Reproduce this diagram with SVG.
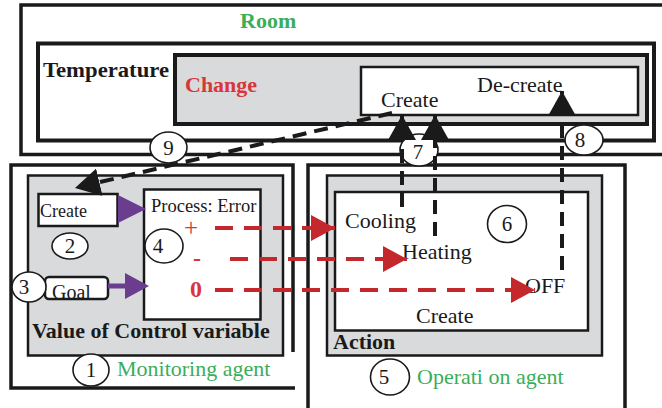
<svg xmlns="http://www.w3.org/2000/svg" width="662" height="408" viewBox="0 0 662 408">
  <style>
    text { font-family: "Liberation Serif", "Times New Roman", serif; font-size: 22px; fill: #1a1a1a; }
    .b { font-weight: bold; }
    .green { fill: #3aae58; }
    .red { fill: #d8363a; }
    .frame { fill: none; stroke: #1a1a1a; stroke-width: 4; }
    .panel { fill: #d9dadc; stroke: #1a1a1a; stroke-width: 2.5; }
    .box { fill: #ffffff; stroke: #1a1a1a; stroke-width: 2.5; }
    .badge { fill: #ffffff; stroke: #1a1a1a; stroke-width: 1.6; }
    .num { font-size: 21px; text-anchor: middle; }
    .flow { fill: none; stroke: #c4282c; stroke-width: 4; stroke-dasharray: 18 11; }
    .feed { fill: none; stroke: #1a1a1a; stroke-width: 4; stroke-dasharray: 14 8; }
    .input { fill: none; stroke: #6a3d8f; stroke-width: 5; }
  </style>
  <defs>
    <marker id="redHead" markerUnits="userSpaceOnUse" markerWidth="26" markerHeight="26" refX="24" refY="13" orient="auto">
      <path d="M0,0 L24,13 L0,26 Z" fill="#c4282c"/>
    </marker>
    <marker id="blackHead" markerUnits="userSpaceOnUse" markerWidth="28" markerHeight="28" refX="25" refY="14" orient="auto">
      <path d="M0,0 L25,14 L0,28 Z" fill="#1a1a1a"/>
    </marker>
  </defs>

  <rect width="662" height="408" fill="#ffffff"/>

  <!-- Room -->
  <g id="room">
    <path class="frame" d="M665,5 H21 V154.5 H665" style="stroke-width:3.5"/>
    <text class="b green" x="240" y="28">Room</text>
  </g>

  <!-- Temperature -->
  <g id="temperature">
    <rect class="frame" x="38" y="43.5" width="616" height="97"/>
    <text class="b" x="43" y="77" textLength="126" lengthAdjust="spacingAndGlyphs">Temperature</text>
  </g>

  <!-- Change -->
  <g id="change">
    <rect class="frame" x="175" y="55" width="472" height="69" style="fill:#d9dadc"/>
    <text class="b red" x="185" y="92">Change</text>
  </g>

  <!-- Create / De-create states -->
  <g id="change-states">
    <rect class="box" x="361" y="67" width="277" height="48"/>
    <text x="381" y="107">Create</text>
    <text x="477" y="92">De-create</text>
  </g>

  <!-- Monitoring agent -->
  <g id="monitoring-agent">
    <path class="frame" d="M293,352 V165 H11 V388 H295" style="stroke-width:3.5"/>
    <rect class="panel" x="28" y="175.5" width="255" height="180"/>
    <text class="b" x="32" y="338">Value of Control variable</text>
    <text class="green" x="117" y="376">Monitoring agent</text>
  </g>

  <g id="create-input">
    <rect class="box" x="38.5" y="194" width="79" height="32"/>
    <text x="40" y="217" style="font-size:18px">Create</text>
  </g>

  <g id="goal-input">
    <rect class="box" x="45" y="277" width="63" height="22" rx="4"/>
    <text x="52" y="299" style="font-size:20px">Goal</text>
  </g>

  <g id="process-error">
    <rect class="box" x="144" y="189.5" width="116.5" height="130"/>
    <text x="151" y="212" style="font-size:18.5px">Process: Error</text>
    <text class="red" x="191" y="236" text-anchor="middle" style="font-size:25px">+</text>
    <text class="b red" x="197" y="266" text-anchor="middle" style="font-size:24px">-</text>
    <text class="b red" x="196" y="297" text-anchor="middle" style="font-size:24px">0</text>
  </g>

  <!-- Operation agent -->
  <g id="operation-agent">
    <path class="frame" d="M308,410 V165 H625 V410" style="stroke-width:3.5"/>
    <rect class="panel" x="327" y="175.5" width="275" height="180"/>
    <text class="b" x="333" y="349">Action</text>
    <text class="green" x="417" y="384">Operati on agent</text>
  </g>

  <g id="operations">
    <rect class="box" x="335" y="192" width="253" height="138.5"/>
    <text x="345" y="228">Cooling</text>
    <text x="402" y="259">Heating</text>
    <text x="525" y="293">OFF</text>
    <text x="416" y="323">Create</text>
  </g>

  <!-- numbered badges -->
  <g id="badges">
    <ellipse class="badge" cx="91" cy="370" rx="18" ry="16"/>
    <text class="num" x="91" y="377">1</text>
    <ellipse class="badge" cx="70" cy="246" rx="18" ry="13"/>
    <text class="num" x="70" y="253">2</text>
    <ellipse class="badge" cx="29" cy="287" rx="17" ry="15"/>
    <text class="num" x="24" y="294">3</text>
    <ellipse class="badge" cx="164" cy="246" rx="19" ry="17"/>
    <text class="num" x="158" y="253">4</text>
    <ellipse class="badge" cx="390" cy="377" rx="19.5" ry="18"/>
    <text class="num" x="384" y="384">5</text>
    <ellipse class="badge" cx="507" cy="224" rx="19.5" ry="18.5"/>
    <text class="num" x="507" y="231">6</text>
    <ellipse class="badge" cx="419" cy="150" rx="19" ry="16"/>
    <text class="num" x="418" y="159">7</text>
    <ellipse class="badge" cx="584" cy="140" rx="19" ry="15"/>
    <text class="num" x="580" y="147">8</text>
    <ellipse class="badge" cx="168.5" cy="147.5" rx="18.5" ry="15.5"/>
    <text class="num" x="168.5" y="155">9</text>
  </g>

  <!-- connectors -->
  <g id="connectors">
    <!-- inputs into the error process -->
    <path d="M118,195 L146,209 L118,223 Z" fill="#6a3d8f"/>
    <line class="input" x1="108" y1="286" x2="127" y2="286"/>
    <path d="M125,273 L149,286 L125,299 Z" fill="#6a3d8f"/>

    <!-- error sign selects the action -->
    <line class="flow" x1="215" y1="228" x2="335" y2="228" marker-end="url(#redHead)"/>
    <line class="flow" x1="230" y1="259" x2="407" y2="259" marker-end="url(#redHead)"/>
    <line class="flow" x1="215" y1="290" x2="535" y2="290" marker-end="url(#redHead)"/>

    <!-- actions change the temperature -->
    <line class="feed" x1="402" y1="207" x2="402" y2="115" marker-end="url(#blackHead)"/>
    <line class="feed" x1="435" y1="236" x2="435" y2="115" marker-end="url(#blackHead)"/>
    <line class="feed" x1="562" y1="270" x2="562" y2="91" stroke-dasharray="17 8" marker-end="url(#blackHead)"/>

    <!-- temperature change fed back to monitoring -->
    <line class="feed" x1="392" y1="113" x2="75" y2="188" marker-end="url(#blackHead)"/>
  </g>
</svg>
